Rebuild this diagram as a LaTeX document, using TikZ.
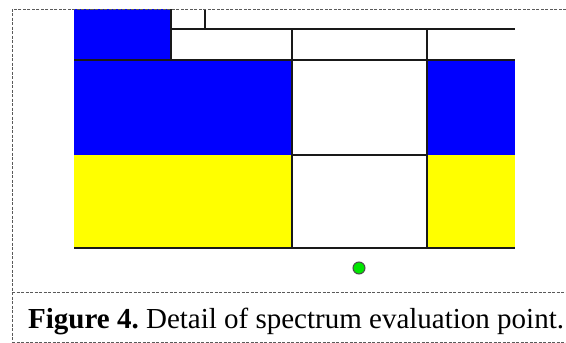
\documentclass[tikz,border=0pt]{standalone}
\usepackage{fontspec}
\setmainfont{Liberation Serif}
\usetikzlibrary{positioning}
\definecolor{cellblue}{RGB}{0,0,255}
\definecolor{cellyellow}{RGB}{255,255,0}
\definecolor{pointgreen}{RGB}{0,230,0}
\definecolor{framegray}{RGB}{90,90,90}
\tikzset{
  frameline/.style = {draw=framegray, dash pattern=on 3pt off 1.5pt, line width=0.8pt},
  cellline/.style  = {draw=black!90, line width=2.2pt},
  bluecell/.style  = {fill=cellblue},
  yellowcell/.style= {fill=cellyellow},
  evalpoint/.style = {circle, fill=pointgreen, draw=black!70, line width=1pt,
                      minimum size=12pt, inner sep=0pt},
}

\begin{document}
\begin{tikzpicture}[x=1pt, y=-1pt]
\useasboundingbox (0,0) rectangle (566,343);

% filled cells
\fill[bluecell]   (74,9)   rectangle (171,60);
\fill[bluecell]   (74,60)  rectangle (292,155);
\fill[bluecell]   (427,60) rectangle (515,155);
\fill[yellowcell] (74,155) rectangle (292,248);
\fill[yellowcell] (427,155) rectangle (515,248);

% grid lines
\draw[cellline] (171,9) -- (171,60);
\draw[cellline] (205,9) -- (205,29);
\draw[cellline] (171,29) -- (515,29);
\draw[cellline] (74,60) -- (515,60);
\draw[cellline] (292,29) -- (292,248);
\draw[cellline] (427,29) -- (427,248);
\draw[cellline] (292,155) -- (427,155);
\draw[cellline] (74,248) -- (515,248);

% evaluation point
\node[evalpoint] (point) at (359,268) {};

% frame
\draw[frameline] (566,9) -- (12,9) -- (12,343);
\draw[frameline] (12,292) -- (566,292);
\draw[frameline] (12,342) -- (566,342);

% caption
\node[anchor=base west, inner sep=0pt, font=\fontsize{29}{34}\selectfont]
  (caption) at (28,328) {\frenchspacing\textbf{Figure 4.} Detail of spectrum evaluation point.};
\end{tikzpicture}
\end{document}
